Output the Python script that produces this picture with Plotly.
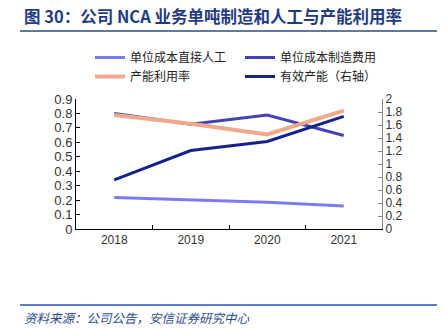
import plotly.graph_objects as go

years = ["2018", "2019", "2020", "2021"]
labor = [0.218, 0.200, 0.186, 0.160]
mfg_cost = [0.800, 0.726, 0.789, 0.647]
utilization = [0.789, 0.728, 0.654, 0.819]
capacity = [0.756, 1.208, 1.347, 1.733]

names = ["单位成本直接人工", "单位成本制造费用", "产能利用率", "有效产能（右轴）"]
colors = ["#7B7BF7", "#4343B5", "#F0A98A", "#14238C"]
widths = [3, 3, 4, 3]

FONT = "Liberation Sans, Noto Sans CJK SC, sans-serif"
CJK = "Noto Sans CJK SC"

L, T, W, H = 76, 99, 306, 130


def px_x(x):
    return (x - L) / W


def px_y(y):
    return 1 - (y - T) / H


fig = go.Figure()
series = [labor, mfg_cost, utilization]
for i, s in enumerate(series):
    fig.add_trace(go.Scatter(x=years, y=s, name=names[i], mode="lines",
                             line=dict(color=colors[i], width=widths[i])))
fig.add_trace(go.Scatter(x=years, y=capacity, name=names[3], mode="lines", yaxis="y2",
                         line=dict(color=colors[3], width=widths[3])))

fig.update_layout(
    width=446, height=330,
    margin=dict(l=L, r=446 - L - W, t=T, b=330 - T - H, autoexpand=False),
    paper_bgcolor="white", plot_bgcolor="white",
    font=dict(family=FONT, color="#222"),
    showlegend=True,
    legend=dict(orientation="h", x=px_x(90), y=px_y(43), xref="paper", yref="paper",
                yanchor="top", xanchor="left",
                traceorder="normal",
                entrywidth=105, entrywidthmode="pixels",
                font=dict(size=12, color="#222", family=CJK),
                tracegroupgap=0, itemwidth=30,
                bgcolor="rgba(0,0,0,0)"),
    xaxis=dict(type="category", showline=True, linecolor="#000", linewidth=1,
               ticks="inside", ticklen=4, tickcolor="#000", tickson="boundaries",
               showgrid=False, tickfont=dict(size=12, color="#333"),
               range=[-0.5, 3.5]),
    yaxis=dict(range=[0, 0.9], dtick=0.1, tickformat=".1~f", showline=True,
               linecolor="#000", linewidth=1, ticks="inside", ticklen=4,
               tickcolor="#000", showgrid=False, zeroline=False,
               tickfont=dict(size=13, color="#333")),
    yaxis2=dict(range=[0, 2], dtick=0.2, tickformat=".1~f", overlaying="y", side="right",
                showline=True, linecolor="#888", linewidth=1, ticks="inside", ticklen=4,
                tickcolor="#888", showgrid=False, zeroline=False,
                tickfont=dict(size=12, color="#333")),
)

title = "图 30：公司 NCA 业务单吨制造和人工与产能利用率"

fig.update_layout(annotations=[
    dict(text="<b>" + title + "</b>",
         xref="paper", yref="paper", x=px_x(22), y=px_y(16),
         xanchor="left", yanchor="middle", showarrow=False,
         font=dict(size=16.5, color="#1F3B82", family=CJK)),
    dict(text="<i>资料来源：公司公告，安信证券研究中心</i>",
         xref="paper", yref="paper", x=px_x(22), y=px_y(317),
         xanchor="left", yanchor="middle", showarrow=False,
         font=dict(size=12.5, color="#2B4A8E", family=CJK)),
])

fig.update_layout(shapes=[
    dict(type="line", xref="paper", yref="paper",
         x0=px_x(20), x1=px_x(437), y0=px_y(31), y1=px_y(31),
         line=dict(color="#2B4A8E", width=1.5)),
    dict(type="line", xref="paper", yref="paper",
         x0=px_x(20), x1=px_x(437), y0=px_y(305), y1=px_y(305),
         line=dict(color="#5B7BC4", width=2)),
])

fig.write_html("out.html")
